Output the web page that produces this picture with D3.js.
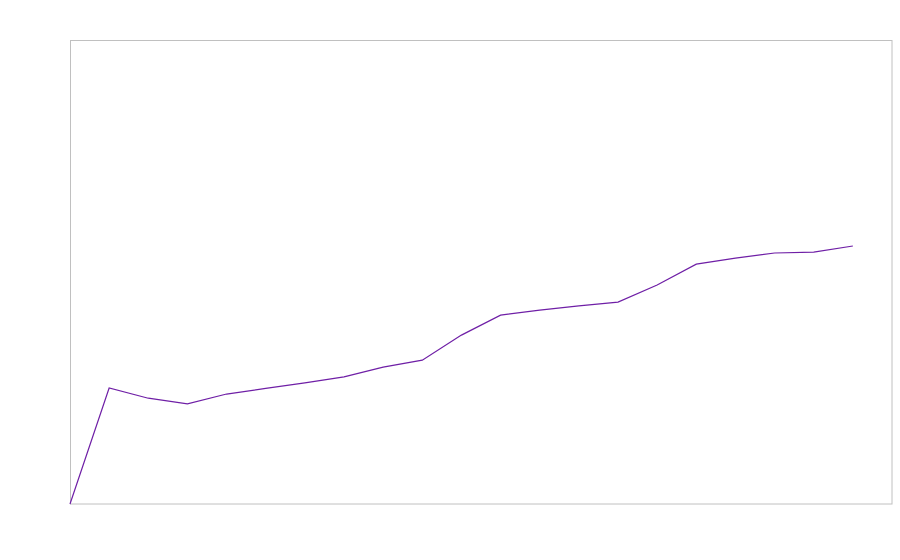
<!DOCTYPE html>
<html>
<head>
<meta charset="utf-8">
<script src="https://cdn.jsdelivr.net/npm/d3@7"></script>
<style>
  body { margin: 0; background: #fff; }
</style>
</head>
<body>
<div id="chart"></div>
<script>
// data
var steps = d3.range(0, 21);
var values = [0, 25.0, 22.8, 21.6, 23.7, 24.9, 26.1, 27.4, 29.5, 31.0, 36.4,
              40.7, 41.8, 42.7, 43.5, 47.2, 51.7, 53.0, 54.1, 54.3, 55.6];
var xDomain = [0, 21];
var yDomain = [0, 100];

var svgWidth = 900;
var svgHeight = 560;
var margin = { top: 40, right: 8, bottom: 56, left: 70 };
var width = svgWidth - margin.left - margin.right;
var height = svgHeight - margin.top - margin.bottom;

var svg = d3.select("#chart")
    .append("svg")
    .attr("width", svgWidth)
    .attr("height", svgHeight);

var chartGroup = svg.append("g")
    .attr("transform", `translate(${margin.left}, ${margin.top})`);

var xScale = d3.scaleLinear().domain(xDomain).range([0, width]);
var yScale = d3.scaleLinear().domain(yDomain).range([height, 0]);

// frame
chartGroup.append("rect")
    .attr("x", 0.5)
    .attr("y", 0.5)
    .attr("width", width - 0.5)
    .attr("height", height - 0.5)
    .attr("fill", "none")
    .attr("stroke", "#c0c0c0")
    .attr("stroke-width", 1);

var line = d3.line()
    .x((d, i) => xScale(steps[i]))
    .y(d => yScale(d));

chartGroup.append("path")
    .datum(values)
    .attr("fill", "none")
    .attr("stroke", "#6f1fa6")
    .attr("stroke-width", 1.2)
    .attr("d", line);
</script>
</body>
</html>
